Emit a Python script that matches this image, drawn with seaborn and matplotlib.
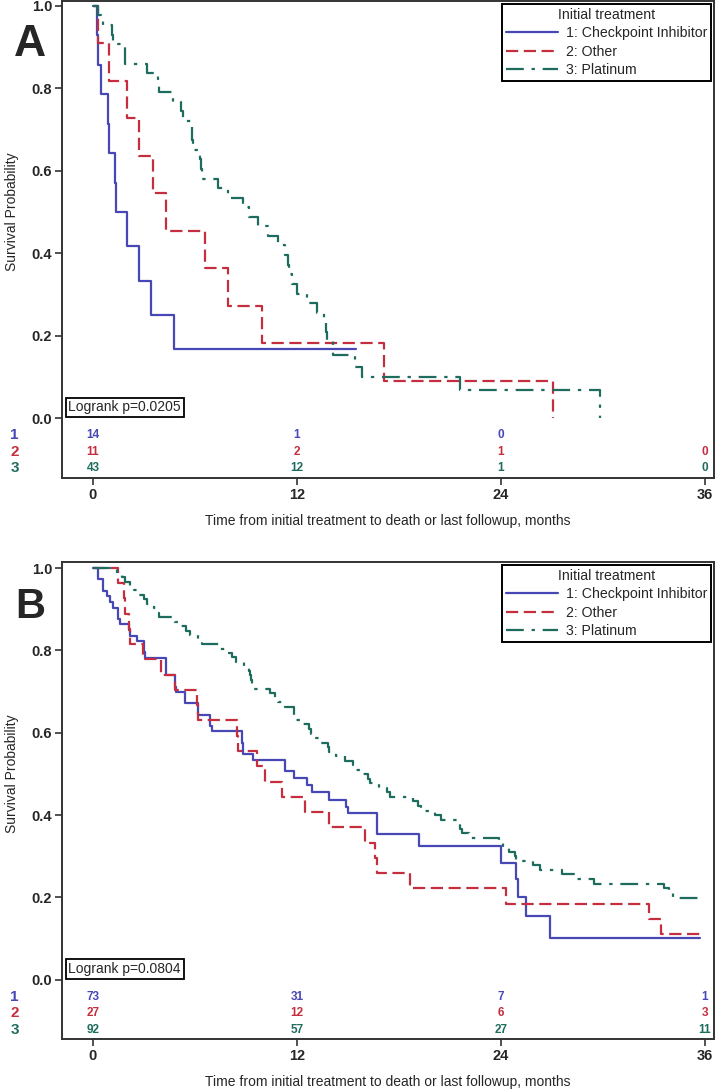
import numpy as np
import pandas as pd
import matplotlib
matplotlib.use("Agg")
import matplotlib.pyplot as plt
import seaborn as sns

# ---- data ----
groups = ["1: Checkpoint Inhibitor", "2: Other", "3: Platinum"]
colors = ["#4747B5", "#C42E3E", "#1D6C5D"]

# panel A
a_ci_time = [0, 0.25, 0.3, 0.45, 0.9, 0.93, 1.3, 1.33, 1.98, 2.73, 3.43, 4.78, 15.5]
a_ci_surv = [1.0, 0.929, 0.857, 0.786, 0.714, 0.643, 0.571, 0.5, 0.417, 0.333, 0.25, 0.167, 0.167]
a_oth_time = [0, 0.27, 0.94, 1.98, 2.71, 3.51, 4.27, 6.59, 7.95, 9.96, 17.14, 27.05]
a_oth_surv = [1.0, 0.909, 0.818, 0.727, 0.636, 0.545, 0.455, 0.364, 0.273, 0.182, 0.091, 0.0]
a_pt_time = [0, 0.27, 0.6, 1.14, 1.16, 1.88, 1.9, 3.16, 3.84, 3.86,
             4.73, 5.2, 5.3, 5.8, 5.85, 5.9, 6.3, 6.35, 6.4, 7.37,
             7.96, 8.8, 9.2, 9.7, 10.3, 10.9, 11.3, 11.5, 11.55, 11.7,
             12.0, 12.6, 13.2, 13.6, 13.7, 13.75, 14.1, 15.4, 15.8, 21.6, 29.8]
a_pt_surv = [1.0, 0.977, 0.953, 0.930, 0.907, 0.884, 0.860, 0.837, 0.814, 0.791,
             0.767, 0.744, 0.721, 0.698, 0.674, 0.651, 0.628, 0.605, 0.581, 0.558,
             0.535, 0.512, 0.488, 0.465, 0.442, 0.419, 0.395, 0.372, 0.349, 0.326,
             0.302, 0.279, 0.256, 0.233, 0.209, 0.186, 0.153, 0.124, 0.100, 0.067, 0.0]

# panel B
b_ci_time = [0, 0.3, 0.6, 0.8, 1.0, 1.2, 1.45, 1.6, 2.1, 2.2,
             2.6, 3.0, 3.05, 4.27, 4.3, 4.85, 4.9, 5.4, 6.2, 6.9,
             7.0, 8.75, 8.8, 9.4, 11.3, 11.8, 12.6, 12.9, 13.9, 14.9,
             15.0, 16.7, 19.2, 24.0, 24.9, 25.0, 25.5, 26.9, 35.7]
b_ci_surv = [1.0, 0.973, 0.945, 0.932, 0.918, 0.904, 0.877, 0.863, 0.849, 0.836,
             0.822, 0.795, 0.781, 0.767, 0.740, 0.712, 0.699, 0.671, 0.644, 0.616,
             0.603, 0.575, 0.548, 0.534, 0.507, 0.490, 0.474, 0.457, 0.437, 0.420,
             0.404, 0.354, 0.325, 0.283, 0.245, 0.202, 0.154, 0.101, 0.101]
b_oth_time = [0, 1.45, 1.8, 1.9, 2.1, 2.2, 2.95, 4.0, 4.8, 6.1,
              6.15, 8.5, 8.55, 9.63, 10.1, 11.1, 12.5, 13.9, 16.0, 16.6,
              16.7, 18.65, 24.3, 32.7, 33.4, 35.7]
b_oth_surv = [1.0, 0.963, 0.926, 0.889, 0.852, 0.815, 0.778, 0.741, 0.704, 0.667,
              0.630, 0.593, 0.556, 0.519, 0.481, 0.444, 0.407, 0.370, 0.333, 0.296,
              0.259, 0.222, 0.185, 0.148, 0.111, 0.111]
b_pt_time = [0, 1.4, 1.7, 1.9, 2.2, 2.4, 2.6, 3.0, 3.2, 3.6,
             3.8, 3.9, 4.8, 5.0, 5.5, 5.7, 6.2, 6.4, 7.5, 7.9,
             8.2, 8.4, 8.9, 9.2, 9.25, 9.3, 9.35, 9.4, 10.4, 10.7,
             10.9, 11.3, 11.8, 11.85, 11.9, 12.3, 12.7, 12.8, 13.1, 13.4,
             13.8, 13.9, 14.3, 14.8, 15.3, 15.5, 15.9, 16.2, 16.3, 16.8,
             17.3, 17.5, 18.8, 19.1, 19.3, 20.1, 20.5, 21.5, 21.6, 21.7,
             22.1, 23.9, 24.1, 24.5, 24.8, 24.9, 25.9, 26.3, 27.6, 28.4,
             29.5, 33.6, 33.9, 34.1, 35.8]
b_pt_surv = [1.0, 0.989, 0.978, 0.967, 0.957, 0.946, 0.935, 0.924, 0.913, 0.902,
             0.891, 0.880, 0.870, 0.859, 0.848, 0.837, 0.826, 0.815, 0.804, 0.793,
             0.783, 0.772, 0.761, 0.750, 0.739, 0.728, 0.717, 0.707, 0.696, 0.685,
             0.674, 0.663, 0.652, 0.641, 0.630, 0.620, 0.609, 0.598, 0.587, 0.576,
             0.565, 0.554, 0.543, 0.532, 0.521, 0.510, 0.499, 0.488, 0.477, 0.466,
             0.455, 0.444, 0.433, 0.422, 0.411, 0.400, 0.389, 0.378, 0.367, 0.356,
             0.345, 0.334, 0.322, 0.311, 0.300, 0.289, 0.278, 0.267, 0.256, 0.245,
             0.233, 0.222, 0.210, 0.199, 0.199]

risk_times = [0, 12, 24, 36]
a_risk = [["14", "1", "0", ""], ["11", "2", "1", "0"], ["43", "12", "1", "0"]]
b_risk = [["73", "31", "7", "1"], ["27", "12", "6", "3"], ["92", "57", "27", "11"]]
a_pvalue = "Logrank p=0.0205"
b_pvalue = "Logrank p=0.0804"

# ---- style ----
sns.set_theme(style="ticks")
plt.rcParams["font.family"] = ["Liberation Sans", "DejaVu Sans"]

frame_col = "#333333"
dash_map = {groups[0]: "", groups[1]: (5.5, 2.5), groups[2]: (8, 3.5, 1.5, 3.5)}
palette = dict(zip(groups, colors))


def make_frame(curves):
	rows = []
	for name, (t, s) in zip(groups, curves):
		rows.append(pd.DataFrame({"time": t, "surv": s, "Initial treatment": name}))
	return pd.concat(rows, ignore_index=True)


def draw_panel(ax, df, risk, pvalue, ylo, yhi):
	sns.lineplot(data=df, x="time", y="surv", hue="Initial treatment",
				 style="Initial treatment", palette=palette, dashes=dash_map,
				 estimator=None, sort=False, drawstyle="steps-post",
				 linewidth=1.6, ax=ax)
	ax.set_xlim(-1.82, 36.53)
	ax.set_ylim(ylo, yhi)
	ax.set_xticks(risk_times)
	ax.set_yticks([0.0, 0.2, 0.4, 0.6, 0.8, 1.0])
	ax.set_yticklabels(["0.0", "0.2", "0.4", "0.6", "0.8", "1.0"])
	for sp in ax.spines.values():
		sp.set_visible(True)
		sp.set_color(frame_col)
		sp.set_linewidth(1.4)
	ax.tick_params(axis="both", direction="out", length=5, width=1.2,
				   color=frame_col, labelsize=10.5, pad=2)
	for lab in ax.get_xticklabels() + ax.get_yticklabels():
		lab.set_fontweight("bold")
	ax.set_xlabel("Time from initial treatment to death or last followup, months",
				  fontsize=10, labelpad=9)
	ax.set_ylabel("Survival Probability", fontsize=10)
	ax.yaxis.set_label_coords(-0.066, (0.5 - ylo) / (yhi - ylo))

	# at-risk table inside the frame
	row_y = [-0.042, -0.082, -0.121]
	for i, (vals, y) in enumerate(zip(risk, row_y)):
		ax.text(-4.6, y, str(i + 1), color=colors[i], fontsize=11,
				fontweight="bold", ha="center", va="center", clip_on=False)
		for t, v in zip(risk_times, vals):
			ax.text(t, y, v, color=colors[i], fontsize=8.5, fontweight="bold",
					ha="center", va="center")

	ax.text(-1.45, 0.026, pvalue, fontsize=10, ha="left", va="center",
			bbox=dict(boxstyle="square,pad=0.2", fc="white", ec="black", lw=1.3))

	sns.move_legend(ax, "upper right", frameon=True, fancybox=False,
					fontsize=10.2, title_fontsize=10.2, handlelength=3.7,
					labelspacing=0.3, borderpad=0.3, borderaxespad=0.2,
					handletextpad=0.5, edgecolor="black", framealpha=1)
	leg = ax.get_legend()
	leg.get_frame().set_linewidth(1.4)
	for h in leg.legend_handles:
		h.set_linewidth(1.6)


fig = plt.figure(figsize=(7.19, 10.92), dpi=100)
W, H = 719.0, 1092.0
ax_a = fig.add_axes([62 / W, (H - 478) / H, 652 / W, 477 / H])
ax_b = fig.add_axes([62 / W, (H - 1039) / H, 652 / W, 477 / H])

df_a = make_frame([(a_ci_time, a_ci_surv), (a_oth_time, a_oth_surv), (a_pt_time, a_pt_surv)])
df_b = make_frame([(b_ci_time, b_ci_surv), (b_oth_time, b_oth_surv), (b_pt_time, b_pt_surv)])

draw_panel(ax_a, df_a, a_risk, a_pvalue, -0.1456, 1.012)
draw_panel(ax_b, df_b, b_risk, b_pvalue, -0.144, 1.0146)

fig.text(30 / W, 1 - 44 / H, "A", fontsize=32, fontweight="bold", ha="center", va="center")
fig.text(30 / W, 1 - 607 / H, "B", fontsize=30, fontweight="bold", ha="center", va="center")

fig.savefig("out.png", dpi=100, facecolor="white")
